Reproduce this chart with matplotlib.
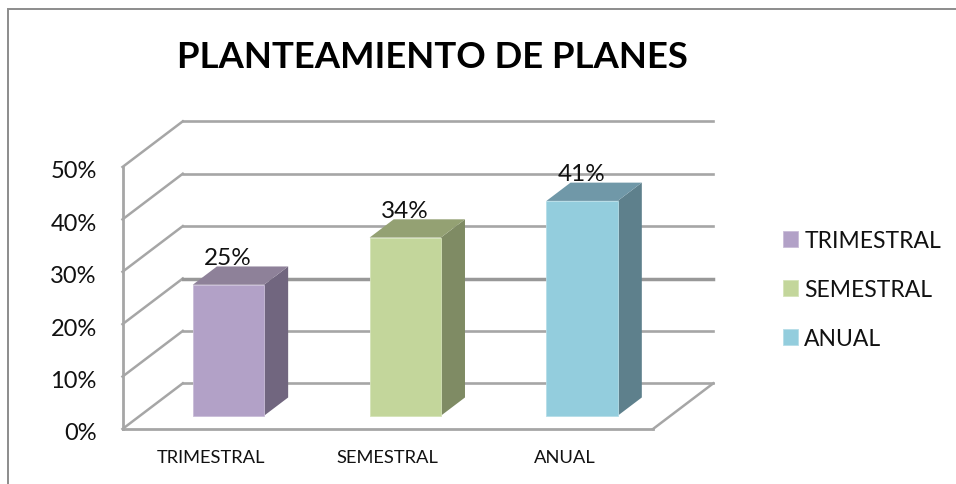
#!/usr/bin/env python3
import matplotlib
matplotlib.use("Agg")
import matplotlib.pyplot as plt
from matplotlib.lines import Line2D
from matplotlib.patches import Polygon
from matplotlib.transforms import ScaledTranslation

W, H = 956, 485

categorias = ["TRIMESTRAL", "SEMESTRAL", "ANUAL"]
valores = [25, 34, 41]
ticks_y = [0, 10, 20, 30, 40, 50]
etiquetas_y = ["0%", "10%", "20%", "30%", "40%", "50%"]

col_frente = ["#b2a1c7", "#c3d69b", "#93cddd"]
col_lado = ["#71667f", "#7f8b64", "#5e808c"]
col_tapa = ["#8e8199", "#94a173", "#7098a8"]
borde = ["#c9bdd8", "#d5e3b8", "#b5dde8"]

GRIS = "#a6a6a6"

plt.rcParams["font.family"] = ["Lato", "DejaVu Sans"]

fig = plt.figure(figsize=(W / 100, H / 100), dpi=100)
# area del plano frontal: x 122-652.7 px, y 168-430 px
ax = fig.add_axes([122.5 / W, 1 - 430 / H, 530.5 / W, 262 / H])
ax.set_xlim(0, 3)
ax.set_ylim(0, 50)
ax.patch.set_visible(False)

# profundidad de la pared del fondo en unidades de datos
prof_x = 60.3 / (530.5 / 3)
prof_y = 45.7 / (262 / 50)

for s in ["top", "right"]:
    ax.spines[s].set_visible(False)
for s in ["left", "bottom"]:
    ax.spines[s].set_color(GRIS)
    ax.spines[s].set_linewidth(2.0)

# rejilla en perspectiva
for t in ticks_y:
    ax.plot([0, prof_x], [t, t + prof_y], color=GRIS, lw=1.8, clip_on=False, zorder=1)
    lw = 2.5 if t == 20 else 1.9
    c = "#989898" if t == 20 else GRIS
    ax.plot([prof_x, 3 + prof_x], [t + prof_y, t + prof_y], color=c, lw=lw,
            clip_on=False, zorder=1)
# borde derecho del suelo
ax.plot([3, 3 + prof_x], [0, prof_y], color=GRIS, lw=1.8, clip_on=False, zorder=1)

# barras 3D: la base va del 29% al 69% de la profundidad
ancho = 0.403
fx0, fy0 = 0.29 * prof_x, 0.29 * prof_y
dx, dy = 0.4 * prof_x, 0.4 * prof_y
posiciones = [i + 0.5 for i in range(len(valores))]

barras = []
for i, (p, v) in enumerate(zip(posiciones, valores)):
    xc = p + fx0
    x0, x1 = xc - ancho / 2, xc + ancho / 2
    y0, y1 = fy0, fy0 + v
    lado = Polygon([(x1, y0), (x1 + dx, y0 + dy), (x1 + dx, y1 + dy), (x1, y1)],
                   facecolor=col_lado[i], edgecolor="none", clip_on=False, zorder=3)
    tapa = Polygon([(x0, y1), (x0 + dx, y1 + dy), (x1 + dx, y1 + dy), (x1, y1)],
                   facecolor=col_tapa[i], edgecolor="none", clip_on=False, zorder=3)
    ax.add_patch(lado)
    ax.add_patch(tapa)
    b = ax.bar(xc, v, width=ancho, bottom=fy0, color=col_frente[i], edgecolor=borde[i],
               linewidth=0.6, label=categorias[i], zorder=4, clip_on=False)
    barras.append(b[0])
    ax.annotate(f"{v}%", (xc, y1), xytext=(-0.5, 27 * 0.72), textcoords="offset points",
                ha="center", va="center", fontsize=17.5, color="#111111", zorder=5,
                annotation_clip=False)

ax.set_yticks(ticks_y, etiquetas_y, fontsize=17, color="#111111")
ax.set_xticks(posiciones, categorias, fontsize=13.2, color="#111111")
ax.tick_params(axis="y", length=0, pad=18.5)
ax.tick_params(axis="x", length=0, pad=14.5)
# bajar un poco las etiquetas del eje y
bajar = ScaledTranslation(0, -2 / 100, fig.dpi_scale_trans)
for lab in ax.get_yticklabels():
    lab.set_transform(lab.get_transform() + bajar)

# marco exterior del grafico (cortado a la derecha y abajo)
fig.add_artist(Line2D([7.5 / W, 7.5 / W, 1], [0, 1 - 10 / H, 1 - 10 / H],
                      color="#8c8c8c", lw=1.4, solid_joinstyle="miter"))

fig.text(432 / W, 1 - 58 / H, "PLANTEAMIENTO DE PLANES", ha="center", va="center",
         fontsize=26.3, fontweight="bold", color="black")

fs_ley = 16.5
fig.legend(handles=barras, labels=categorias, loc="upper left",
           bbox_to_anchor=(783 / W, 1 - 231 / H), frameon=False, fontsize=fs_ley,
           handlelength=10.8 / fs_ley, handleheight=10.8 / fs_ley, handletextpad=0.28,
           labelspacing=1.22, borderpad=0, borderaxespad=0, labelcolor="#111111")

fig.savefig("out.png", dpi=100, facecolor="white")
